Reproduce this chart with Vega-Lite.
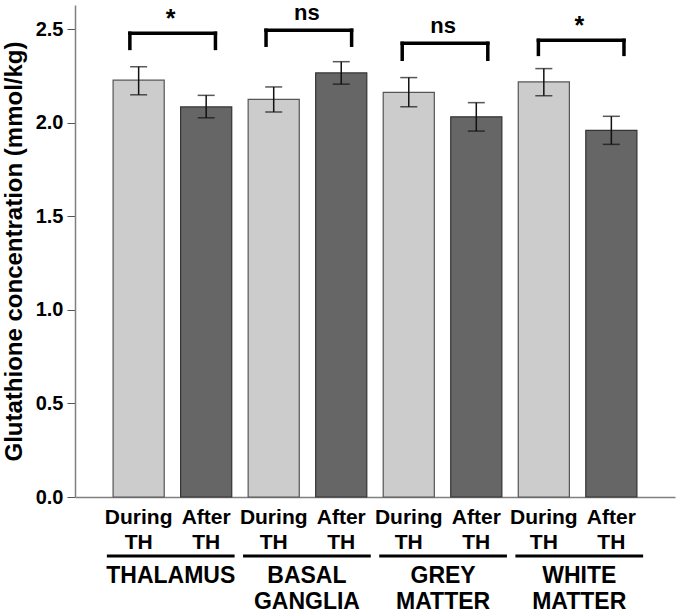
{
  "$schema": "https://vega.github.io/schema/vega-lite/v6.json",
  "width": 600,
  "height": 492,
  "autosize": "none",
  "padding": {"left": 75, "top": 5, "right": 5, "bottom": 118},
  "background": "white",
  "config": {"view": {"stroke": null}, "font": "Liberation Sans"},
  "datasets": {
    "bars": [
      {"key": "THALAMUS During", "cond": "During", "value": 2.228, "lo": 2.150, "hi": 2.300},
      {"key": "THALAMUS After", "cond": "After", "value": 2.085, "lo": 2.027, "hi": 2.147},
      {"key": "BASAL GANGLIA During", "cond": "During", "value": 2.126, "lo": 2.058, "hi": 2.192},
      {"key": "BASAL GANGLIA After", "cond": "After", "value": 2.267, "lo": 2.207, "hi": 2.327},
      {"key": "GREY MATTER During", "cond": "During", "value": 2.163, "lo": 2.086, "hi": 2.242},
      {"key": "GREY MATTER After", "cond": "After", "value": 2.032, "lo": 1.956, "hi": 2.108},
      {"key": "WHITE MATTER During", "cond": "During", "value": 2.219, "lo": 2.145, "hi": 2.290},
      {"key": "WHITE MATTER After", "cond": "After", "value": 1.960, "lo": 1.885, "hi": 2.035}
    ],
    "regions": [
      {"region": "THALAMUS", "label": "THALAMUS", "sig": "*", "top": 2.479, "bottom": 2.398},
      {"region": "BASAL GANGLIA", "label": "BASAL\nGANGLIA", "sig": "ns", "top": 2.495, "bottom": 2.415},
      {"region": "GREY MATTER", "label": "GREY\nMATTER", "sig": "ns", "top": 2.425, "bottom": 2.340},
      {"region": "WHITE MATTER", "label": "WHITE\nMATTER", "sig": "*", "top": 2.441, "bottom": 2.366}
    ]
  },
  "layer": [
    {
      "data": {"name": "bars"},
      "encoding": {
        "x": {
          "field": "key", "type": "nominal", "sort": null,
          "scale": {"paddingInner": 0.243, "paddingOuter": 0.564},
          "axis": {
            "title": null, "labelAngle": 0, "ticks": false,
            "labelExpr": "indexof(datum.value, 'During') >= 0 ? ['During', 'TH'] : ['After', 'TH']",
            "labelFont": "Liberation Sans", "labelFontWeight": "bold", "labelFontSize": 21,
            "labelColor": "black", "labelLineHeight": 25, "labelPadding": 9,
            "domainColor": "#808080", "domainWidth": 1.5
          }
        }
      },
      "layer": [
        {
          "mark": {"type": "bar", "strokeWidth": 1.2},
          "encoding": {
            "y": {
              "field": "value", "type": "quantitative",
              "scale": {"domain": [0, 2.63], "nice": false},
              "axis": {
                "title": "Glutathione concentration (mmol/kg)",
                "titleFont": "Liberation Sans", "titleFontWeight": "bold", "titleFontSize": 24,
                "titleColor": "black", "titlePadding": 9,
                "values": [0, 0.5, 1, 1.5, 2, 2.5], "format": ".1f",
                "labelFont": "Liberation Sans", "labelFontWeight": "bold", "labelFontSize": 20,
                "labelColor": "black", "labelPadding": 4,
                "tickSize": 8, "tickColor": "#555555", "domainColor": "#808080", "domainWidth": 1.5,
                "grid": false
              }
            },
            "fill": {"field": "cond", "type": "nominal", "scale": {"domain": ["During", "After"], "range": ["#cccccc", "#666666"]}, "legend": null},
            "stroke": {"field": "cond", "type": "nominal", "scale": {"domain": ["During", "After"], "range": ["#555555", "#333333"]}, "legend": null}
          }
        },
        {
          "mark": {"type": "rule", "color": "#111111", "strokeWidth": 1.5},
          "encoding": {
            "y": {"field": "lo", "type": "quantitative", "scale": {"domain": [0, 2.63], "nice": false}},
            "y2": {"field": "hi"}
          }
        },
        {
          "mark": {"type": "tick", "color": "#111111", "size": 17, "thickness": 1.5},
          "encoding": {
            "y": {"field": "lo", "type": "quantitative", "scale": {"domain": [0, 2.63], "nice": false}}
          }
        },
        {
          "mark": {"type": "tick", "color": "#111111", "size": 17, "thickness": 1.5},
          "encoding": {
            "y": {"field": "hi", "type": "quantitative", "scale": {"domain": [0, 2.63], "nice": false}}
          }
        }
      ]
    },
    {
      "data": {"name": "regions"},
      "encoding": {
        "x": {
          "field": "region", "type": "nominal", "sort": null,
          "scale": {"paddingInner": 0.062, "paddingOuter": 0.234},
          "axis": null
        }
      },
      "layer": [
        {
          "mark": {"type": "rule", "color": "black", "strokeWidth": 3},
          "encoding": {
            "x": {"field": "region", "type": "nominal", "sort": null, "bandPosition": 0},
            "x2": {"field": "region", "bandPosition": 1},
            "y": {"datum": -0.315, "type": "quantitative", "scale": {"domain": [0, 2.63], "nice": false}}
          }
        },
        {
          "mark": {"type": "text", "font": "Liberation Sans", "fontWeight": "bold", "fontSize": 23, "baseline": "alphabetic", "align": "center", "lineBreak": "\n", "lineHeight": 26.5, "color": "black"},
          "encoding": {
            "y": {"datum": -0.459, "type": "quantitative", "scale": {"domain": [0, 2.63], "nice": false}},
            "text": {"field": "label"}
          }
        },
        {
          "mark": {"type": "rule", "color": "black", "strokeWidth": 3.5, "strokeCap": "square"},
          "encoding": {
            "x": {"field": "region", "type": "nominal", "sort": null, "bandPosition": 0.18},
            "x2": {"field": "region", "bandPosition": 0.85},
            "y": {"field": "top", "type": "quantitative", "scale": {"domain": [0, 2.63], "nice": false}}
          }
        },
        {
          "mark": {"type": "rule", "color": "black", "strokeWidth": 3.5, "strokeCap": "square"},
          "encoding": {
            "x": {"field": "region", "type": "nominal", "sort": null, "bandPosition": 0.18},
            "y": {"field": "top", "type": "quantitative", "scale": {"domain": [0, 2.63], "nice": false}},
            "y2": {"field": "bottom"}
          }
        },
        {
          "mark": {"type": "rule", "color": "black", "strokeWidth": 3.5, "strokeCap": "square"},
          "encoding": {
            "x": {"field": "region", "type": "nominal", "sort": null, "bandPosition": 0.85},
            "y": {"field": "top", "type": "quantitative", "scale": {"domain": [0, 2.63], "nice": false}},
            "y2": {"field": "bottom"}
          }
        },
        {
          "transform": [{"filter": "datum.sig === '*'"}],
          "mark": {"type": "text", "font": "Liberation Sans", "fontWeight": "bold", "fontSize": 25, "baseline": "alphabetic", "align": "center", "dy": -6, "color": "black"},
          "encoding": {
            "y": {"field": "top", "type": "quantitative", "scale": {"domain": [0, 2.63], "nice": false}},
            "text": {"field": "sig"}
          }
        },
        {
          "transform": [{"filter": "datum.sig === 'ns'"}],
          "mark": {"type": "text", "font": "Liberation Sans", "fontWeight": "bold", "fontSize": 22, "baseline": "alphabetic", "align": "center", "dy": -10, "color": "black"},
          "encoding": {
            "y": {"field": "top", "type": "quantitative", "scale": {"domain": [0, 2.63], "nice": false}},
            "text": {"field": "sig"}
          }
        }
      ]
    }
  ],
  "resolve": {"scale": {"x": "independent"}}
}
